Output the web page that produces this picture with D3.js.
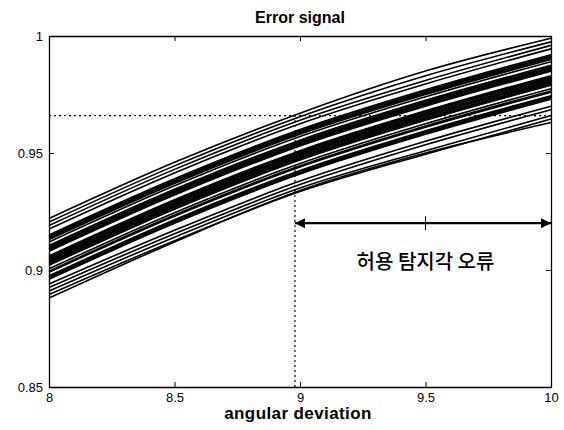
<!DOCTYPE html>
<html>
<head>
<meta charset="utf-8">
<script src="https://cdn.jsdelivr.net/npm/d3@7"></script>
<style>
  body { margin: 0; background: #fff; }
  svg { display: block; }
</style>
</head>
<body>
<div id="chart"></div>
<script>
const width = 564;
const height = 430;
const margin = { top: 36, right: 13, bottom: 43, left: 49 };

// angular deviation values where each curve was read
const xs = [8, 8.5, 9, 9.5, 10];

// error signal curves (one row per curve)
const curves = [
    [0.922, 0.946, 0.967, 0.985, 0.999],
    [0.9205, 0.9445, 0.9655, 0.983, 0.9975],
    [0.919, 0.943, 0.964, 0.981, 0.996],
    [0.9175, 0.9415, 0.9625, 0.9795, 0.9945],
    [0.915, 0.939, 0.960, 0.977, 0.992],
    [0.9145, 0.9385, 0.9595, 0.9765, 0.9915],
    [0.914, 0.938, 0.959, 0.976, 0.991],
    [0.9135, 0.9375, 0.9585, 0.9755, 0.9905],
    [0.913, 0.937, 0.958, 0.975, 0.990],
    [0.912, 0.936, 0.957, 0.974, 0.989],
    [0.9105, 0.9345, 0.9555, 0.9725, 0.9875],
    [0.910, 0.934, 0.955, 0.972, 0.987],
    [0.9095, 0.9335, 0.9545, 0.9715, 0.9865],
    [0.909, 0.933, 0.954, 0.971, 0.986],
    [0.9085, 0.9325, 0.9535, 0.9705, 0.9855],
    [0.908, 0.932, 0.953, 0.970, 0.985],
    [0.906, 0.930, 0.951, 0.968, 0.983],
    [0.9055, 0.9295, 0.9505, 0.9675, 0.9825],
    [0.905, 0.929, 0.950, 0.967, 0.982],
    [0.9045, 0.9285, 0.9495, 0.9665, 0.9815],
    [0.904, 0.928, 0.949, 0.966, 0.981],
    [0.9035, 0.9275, 0.9485, 0.9655, 0.9805],
    [0.903, 0.927, 0.948, 0.965, 0.980],
    [0.9025, 0.9265, 0.9475, 0.9645, 0.9795],
    [0.902, 0.926, 0.947, 0.964, 0.979],
    [0.9005, 0.9245, 0.9455, 0.9625, 0.9775],
    [0.8995, 0.9235, 0.9445, 0.9615, 0.9765],
    [0.899, 0.923, 0.944, 0.961, 0.976],
    [0.8975, 0.9215, 0.9425, 0.9595, 0.9745],
    [0.897, 0.921, 0.942, 0.959, 0.974],
    [0.8965, 0.9205, 0.9415, 0.9585, 0.9735],
    [0.896, 0.920, 0.941, 0.958, 0.973],
    [0.894, 0.917, 0.938, 0.955, 0.970],
    [0.8925, 0.9155, 0.9365, 0.9535, 0.9685],
    [0.891, 0.914, 0.935, 0.951, 0.966],
    [0.8895, 0.9125, 0.9335, 0.9495, 0.9645],
    [0.888, 0.912, 0.934, 0.950, 0.963]
];

const xTicks = [8, 8.5, 9, 9.5, 10];
const yTicks = [0.85, 0.9, 0.95, 1];

// marker lines and the tolerance arrow
const markX = 8.98;
const markY = 0.966;
const arrowY = 0.92;
const arrowLabel = "허용 탐지각 오류";

const svg = d3.select("#chart")
    .append("svg")
    .attr("width", width)
    .attr("height", height);

const x = d3.scaleLinear().domain([8, 10]).range([margin.left, width - margin.right]);
const y = d3.scaleLinear().domain([0.85, 1]).range([height - margin.bottom, margin.top]);

const fmt = d => String(d);
const plotW = width - margin.left - margin.right;

// curves
const line = d3.line()
    .x((d, i) => x(xs[i]))
    .y(d => y(d))
    .curve(d3.curveMonotoneX);

svg.append("g")
    .selectAll("path")
    .data(curves)
    .enter()
    .append("path")
    .attr("d", line)
    .attr("fill", "none")
    .attr("stroke", "#000")
    .attr("stroke-width", 1.6);

// dotted marker lines
svg.append("line")
    .attr("x1", x(markX)).attr("x2", x(markX))
    .attr("y1", y(0.85)).attr("y2", y(markY))
    .attr("stroke", "#000")
    .attr("stroke-width", 1.2)
    .attr("stroke-dasharray", "2,3");

svg.append("line")
    .attr("x1", x(8)).attr("x2", x(10))
    .attr("y1", y(markY)).attr("y2", y(markY))
    .attr("stroke", "#000")
    .attr("stroke-width", 1.2)
    .attr("stroke-dasharray", "2,3");

// frame with inward ticks (matlab style)
svg.append("g")
    .attr("transform", `translate(0,${height - margin.bottom})`)
    .call(d3.axisBottom(x).tickValues(xTicks).tickSizeInner(-5).tickSizeOuter(0).tickPadding(6).tickFormat(fmt));
svg.append("g")
    .attr("transform", `translate(0,${margin.top})`)
    .call(d3.axisTop(x).tickValues(xTicks).tickSizeInner(-5).tickSizeOuter(0).tickFormat(""));
svg.append("g")
    .attr("transform", `translate(${margin.left},0)`)
    .call(d3.axisLeft(y).tickValues(yTicks).tickSizeInner(-5).tickSizeOuter(0).tickPadding(6).tickFormat(fmt));
svg.append("g")
    .attr("transform", `translate(${width - margin.right},0)`)
    .call(d3.axisRight(y).tickValues(yTicks).tickSizeInner(-5).tickSizeOuter(0).tickFormat(""));

svg.selectAll(".domain").attr("stroke", "#000").attr("stroke-width", 1.3);
svg.selectAll(".tick line").attr("stroke", "#000");
svg.selectAll(".tick text")
    .style("font-family", "Liberation Sans, Arial, sans-serif")
    .style("font-size", "13px")
    .attr("fill", "#000");

// arrow
const defs = svg.append("defs");
["start", "end"].forEach(k => {
    defs.append("marker")
        .attr("id", "arr-" + k)
        .attr("viewBox", "0 0 10 10")
        .attr("refX", 10).attr("refY", 5)
        .attr("markerWidth", 17).attr("markerHeight", 10)
        .attr("markerUnits", "userSpaceOnUse")
        .attr("orient", k === "start" ? "auto-start-reverse" : "auto")
        .append("path")
        .attr("d", "M0,0 L10,5 L0,10 Z")
        .attr("fill", "#000");
});

svg.append("line")
    .attr("x1", x(markX)).attr("x2", x(10))
    .attr("y1", y(arrowY)).attr("y2", y(arrowY))
    .attr("stroke", "#000")
    .attr("stroke-width", 2.2)
    .attr("marker-start", "url(#arr-start)")
    .attr("marker-end", "url(#arr-end)");

svg.append("line")
    .attr("x1", x(9.5)).attr("x2", x(9.5))
    .attr("y1", y(arrowY) - 7).attr("y2", y(arrowY) + 7)
    .attr("stroke", "#000")
    .attr("stroke-width", 1);

svg.append("text")
    .attr("x", x(9.5))
    .attr("y", y(arrowY) + 46)
    .attr("text-anchor", "middle")
    .style("font-family", "Noto Sans CJK KR, sans-serif")
    .style("font-size", "20px")
    .style("font-weight", "500")
    .text(arrowLabel);

// titles
svg.append("text")
    .attr("x", margin.left + plotW / 2)
    .attr("y", 23)
    .attr("text-anchor", "middle")
    .style("font-family", "Liberation Sans, Arial, sans-serif")
    .style("font-size", "16px")
    .style("font-weight", "bold")
    .text("Error signal");

svg.append("text")
    .attr("x", margin.left + plotW / 2 - 2)
    .attr("y", 419)
    .attr("text-anchor", "middle")
    .style("font-family", "Liberation Sans, Arial, sans-serif")
    .style("font-size", "17px")
    .style("font-weight", "bold")
    .style("letter-spacing", "0.4px")
    .text("angular deviation");
</script>
</body>
</html>
